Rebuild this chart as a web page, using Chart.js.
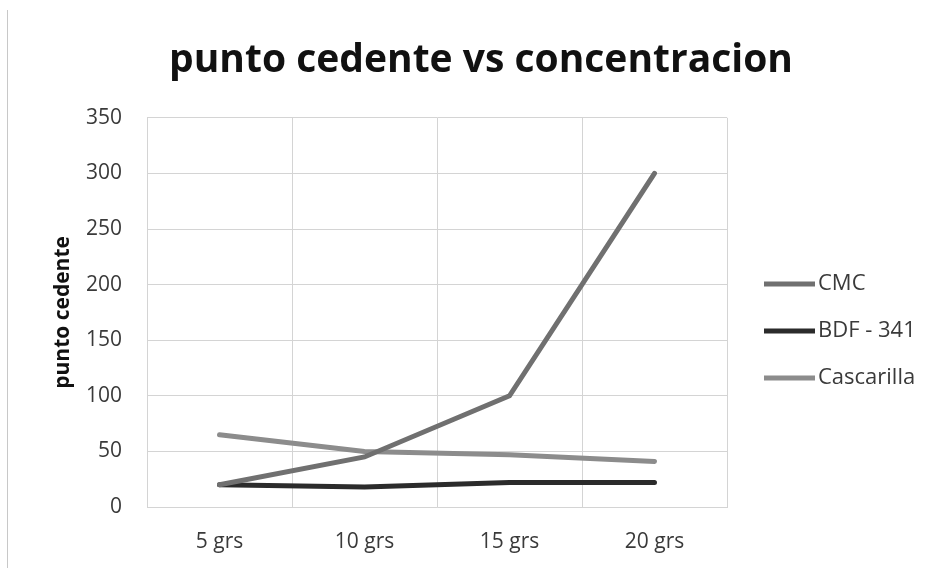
<!DOCTYPE html>
<html>
<head>
<meta charset="utf-8">
<script src="https://cdn.jsdelivr.net/npm/chart.js@4"></script>
<style>
    body { margin: 0; background: #fff; }
    #wrap { position: relative; width: 936px; height: 568px; }
    #edge { position: absolute; left: 7px; top: 10px; width: 1px; height: 558px; background: #c8c8c8; }
</style>
</head>
<body>
<div id="wrap">
    <div id="edge"></div>
    <canvas id="chart" width="936" height="568"></canvas>
</div>
<script>
// Chart data
const categories = ['5 grs', '10 grs', '15 grs', '20 grs'];
const cmcValues = [20, 45, 100, 300];
const bdfValues = [20, 18, 22, 22];
const cascarillaValues = [65, 50, 47, 41];
const yTicks = [0, 50, 100, 150, 200, 250, 300, 350];

const fontFamily = '"Open Sans", "DejaVu Sans", sans-serif';

// Right-hand legend, drawn after the chart
const sideLegend = {
    id: 'sideLegend',
    afterDraw(chart) {
        const ctx = chart.ctx;
        const x0 = 764, lineLen = 51, rowY = [284, 331, 378];
        ctx.save();
        ctx.font = '22px ' + fontFamily;
        ctx.textBaseline = 'middle';
        ctx.fillStyle = '#3a3a3a';
        chart.data.datasets.forEach((ds, i) => {
            ctx.strokeStyle = ds.borderColor;
            ctx.lineWidth = ds.borderWidth;
            ctx.beginPath();
            ctx.moveTo(x0, rowY[i]);
            ctx.lineTo(x0 + lineLen, rowY[i]);
            ctx.stroke();
            ctx.fillText(ds.label, x0 + lineLen + 3, rowY[i]);
        });
        ctx.restore();
    }
};

new Chart(document.getElementById('chart'), {
    type: 'line',
    data: {
        labels: categories,
        datasets: [
            { label: 'CMC', data: cmcValues, borderColor: '#707070', borderWidth: 5 },
            { label: 'BDF - 341', data: bdfValues, borderColor: '#2b2b2b', borderWidth: 5 },
            { label: 'Cascarilla', data: cascarillaValues, borderColor: '#8c8c8c', borderWidth: 5 }
        ]
    },
    options: {
        responsive: false,
        animation: false,
        elements: { point: { radius: 0 }, line: { tension: 0, borderCapStyle: 'round' } },
        layout: { padding: { left: 26, right: 0, top: 0, bottom: 0 } },
        plugins: {
            legend: { display: false },
            tooltip: { enabled: false },
            title: {
                display: true,
                text: 'punto cedente vs concentracion',
                color: '#111',
                font: { family: fontFamily, size: 39, weight: 'bold' },
                padding: { top: 37, bottom: 34 }
            }
        },
        scales: {
            x: {
                offset: true,
                grid: { offset: true, color: '#d4d4d4', drawTicks: false },
                border: { color: '#d4d4d4' },
                ticks: { color: '#3a3a3a', padding: 22, font: { family: fontFamily, size: 21 } },
                afterFit: s => { s.height = 61; }
            },
            y: {
                min: 0,
                max: 350,
                afterBuildTicks: s => { s.ticks = yTicks.map(v => ({ value: v })); },
                grid: { color: '#d4d4d4', drawTicks: false },
                border: { color: '#d4d4d4' },
                ticks: { color: '#3a3a3a', padding: 25, font: { family: fontFamily, size: 21 } },
                title: {
                    display: true,
                    text: 'punto cedente',
                    color: '#111',
                    font: { family: fontFamily, size: 21, weight: 'bold' },
                    padding: { top: 24 }
                },
                afterFit: s => { s.width = 121; }
            },
            // empty right-hand scale that keeps room for the legend
            yRight: {
                position: 'right',
                display: true,
                grid: { display: false },
                border: { display: false },
                ticks: { display: false },
                afterFit: s => { s.width = 209; }
            }
        }
    },
    plugins: [sideLegend]
});
</script>
</body>
</html>
